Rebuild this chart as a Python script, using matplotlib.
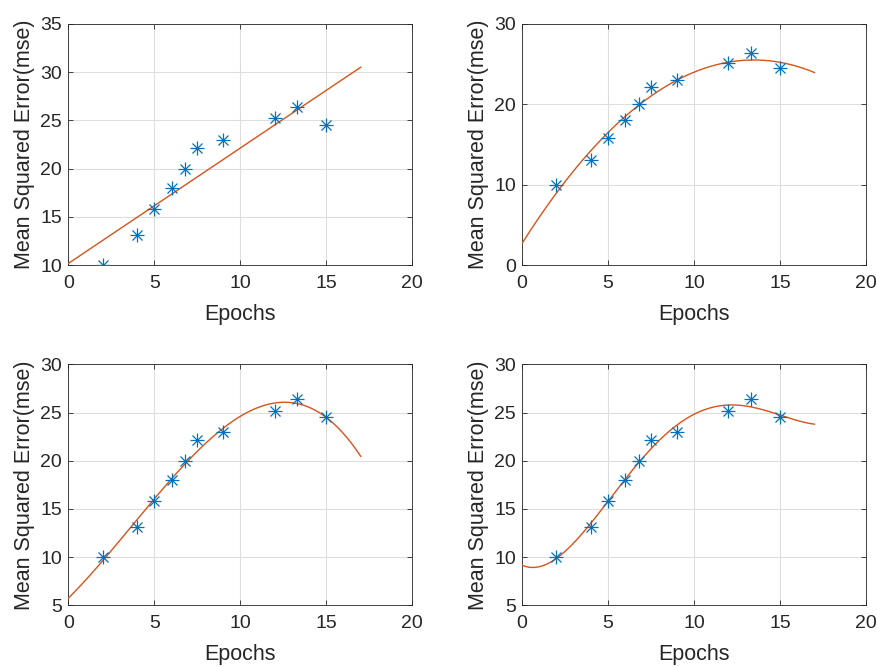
import numpy as np
import matplotlib
matplotlib.use("Agg")
import matplotlib.pyplot as plt

# data
epochs = [2, 4, 5, 6, 6.8, 7.5, 9, 12, 13.3, 15]
mse = [10, 13.1, 15.8, 18, 20, 22.1, 23, 25.2, 26.4, 24.5]
fit_degrees = [1, 2, 3, 4]
fit_range = [0, 17]
ylims = [(10, 35), (0, 30), (5, 30), (5, 30)]
yticks_list = [[10, 15, 20, 25, 30, 35], [0, 10, 20, 30],
               [5, 10, 15, 20, 25, 30], [5, 10, 15, 20, 25, 30]]
xticks = [0, 5, 10, 15, 20]
xlabel = "Epochs"
ylabel = "Mean Squared Error(mse)"

plt.rcParams['font.family'] = ['Liberation Sans', 'DejaVu Sans']

W, H = 877, 667
fig = plt.figure(figsize=(W / 100, H / 100), dpi=100)

blue = '#0072BD'
orange = '#D95319'
axcol = '#262626'

lefts = [68.3, 522.0]
tops = [24.0, 364.3]
aw, ah = 344.0, 241.0

for i in range(4):
    r, c = divmod(i, 2)
    ax = fig.add_axes([lefts[c] / W, 1 - (tops[r] + ah) / H, aw / W, ah / H])
    xs = np.linspace(fit_range[0], fit_range[1], 300)
    coef = np.polyfit(epochs, mse, fit_degrees[i])
    ax.plot(xs, np.polyval(coef, xs), color=orange, lw=1.0, zorder=3)
    ax.plot(epochs, mse, linestyle='none', marker='+', ms=9.8, mew=0.9,
            color=blue, zorder=4)
    ax.plot(epochs, mse, linestyle='none', marker='x', ms=6.9, mew=0.9,
            color=blue, zorder=4)
    ax.set_xlim(0, 20)
    ax.set_ylim(*ylims[i])
    ax.set_xticks(xticks)
    ax.set_yticks(yticks_list[i])
    ax.grid(True, color='#dedede', lw=0.8)
    ax.set_axisbelow(True)
    ax.tick_params(direction='in', length=3.5, width=0.6, colors=axcol,
                   labelsize=14, top=True, right=True)
    ax.tick_params(axis='x', pad=7)
    ax.tick_params(axis='y', pad=4.5)
    for s in ax.spines.values():
        s.set_color(axcol)
        s.set_linewidth(0.6)
    ax.set_xlabel(xlabel, fontsize=15.5, color=axcol, labelpad=8.5)
    ax.set_ylabel(ylabel, fontsize=15.5, color=axcol, labelpad=3.5)

fig.savefig('out.png', dpi=100, facecolor='white')
